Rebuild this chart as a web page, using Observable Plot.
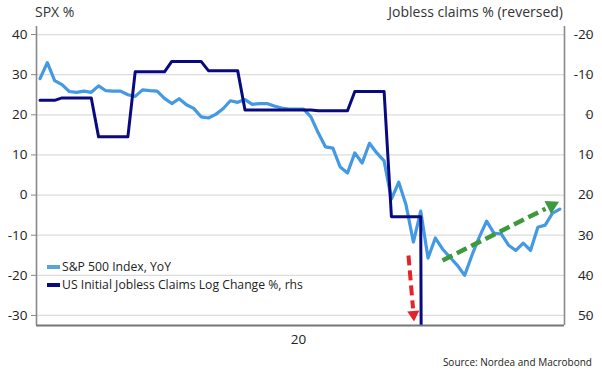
<!DOCTYPE html>
<html>
<head>
<meta charset="utf-8">
<script src="https://cdn.jsdelivr.net/npm/d3@7"></script>
<script src="https://cdn.jsdelivr.net/npm/@observablehq/plot@0.6"></script>
<style>
  body { margin: 0; background: #fff; font-family: "Open Sans", sans-serif; }
  #wrap { position: relative; width: 602px; height: 374px; overflow: hidden; }
  .hdr { position: absolute; top: 0; height: 24px; line-height: 24px; font-size: 14px; color: #333; white-space: nowrap; }
  #chart { position: absolute; top: 24px; left: 0; }
  #legend { position: absolute; left: 47px; top: 258px; font-size: 12.2px; color: #222; line-height: 18px; white-space: nowrap; }
  #legend .sw { display: inline-block; width: 13px; height: 4px; vertical-align: middle; margin-right: 2px; position: relative; top: -1px; }
  #src { position: absolute; right: 10px; top: 351px; height: 22px; line-height: 22px; font-size: 10px; color: #222; white-space: nowrap; }
</style>
</head>
<body>
<div id="wrap">
  <div class="hdr" id="lhsTitle" style="left:35px"></div>
  <div class="hdr" id="rhsTitle" style="right:39px"></div>
  <div id="chart"></div>
  <div id="legend"></div>
  <div id="src"></div>
</div>
<script>
// ---- data ----
const seriesNames = ["S&P 500 Index, YoY", "US Initial Jobless Claims Log Change %, rhs"];
const lhsTitle = "SPX %";
const rhsTitle = "Jobless claims % (reversed)";
const source = "Source: Nordea and Macrobond";

// S&P 500 YoY %, weekly observations (left axis)
const spx = [29, 33, 28.5, 27.5, 25.8, 25.6, 25.9, 25.6, 27.2, 26, 25.9, 25.9, 25, 24.6, 26.2, 26,
  25.9, 24.1, 22.8, 24, 22.5, 21.6, 19.5, 19.2, 20.1, 21.5, 23.5, 23.1, 23.8, 22.6, 22.8, 22.8,
  22.2, 21.7, 21.4, 21.4, 21.4, 19.5, 15.5, 12, 11.7, 7, 5.5, 10.5, 8, 12.9, 10.5, 8.5,
  -1, 3.2, -2.5, -11.7, -4, -15.7, -10.7, -13.5, -15.5, -17.5, -20, -15, -10.5, -6.5,
  -9.5, -9.7, -12.5, -13.8, -12, -13.8, -8, -7.5, -4.5, -3.5];

// US initial jobless claims log change %, weekly (right axis, reversed)
const claims = [-3.6, -3.6, -3.6, -4.2, -4.2, -4.2, -4.2, -4.2, 5.5, 5.5, 5.5, 5.5, 5.5,
  -10.7, -10.7, -10.7, -10.7, -10.7, -13.3, -13.3, -13.3, -13.3, -13.3,
  -11, -11, -11, -11, -11, -1.2, -1.2, -1.2, -1.2, -1.2, -1.2, -1.2, -1.2, -1.2, -1.2,
  -1, -1, -1, -1, -1, -5.8, -5.8, -5.8, -5.8, -5.8, 25.4, 25.4, 25.4, 25.4, 25.4, 500];

// axes
const lhsTicks = [-30, -20, -10, 0, 10, 20, 30, 40];
const rhsTicks = [50, 40, 30, 20, 10, 0, -10, -20];
const rhsPivot = 20;             // lhs value = rhsPivot - rhs value
const xTickPos = [35.3];
const xTickLabels = ["20"];
const xDomain = [-0.48, 71.64];
const yDomain = [-32.5, 42];

// hand-drawn arrows (start, shaft end, head centre) in data units
const arrowStart = [[50.33, -15.05], [54.98, -16.29]];
const arrowEnd = [[50.95, -28.25], [69.05, -3.39]];
const arrowHead = [[51.02, -29.75], [69.87, -2.64]];

// ---- styles ----
const colSpx = "#4399e3";
const colClaims = "#0a0a80";
const arrowColors = ["#e3242b", "#3c9a3c"];
const arrowRotate = [176, 63];
const arrowHeadR = [4.5, 5.4];
const arrowWidth = [4, 4.5];
const arrowDash = ["10,5", "11,5"];

const hyph = v => String(v).replace("\u2212", "-");

const spxData = spx.map((v, i) => ({x: i, y: v}));
const claimsData = claims.map((v, i) => ({x: i, y: rhsPivot - v}));

const arrowMarks = [];
arrowStart.forEach((s, k) => {
  arrowMarks.push(Plot.line([s, arrowEnd[k]], {
    x: d => d[0], y: d => d[1], stroke: arrowColors[k], strokeWidth: arrowWidth[k],
    strokeDasharray: arrowDash[k], strokeLinecap: "butt"
  }));
  arrowMarks.push(Plot.dot([arrowHead[k]], {
    x: d => d[0], y: d => d[1], symbol: "triangle", r: arrowHeadR[k],
    fill: arrowColors[k], stroke: "none", rotate: arrowRotate[k]
  }));
});

const chart = Plot.plot({
  width: 602,
  height: 326,
  marginLeft: 36,
  marginRight: 38,
  marginTop: 2,
  marginBottom: 25,
  x: {domain: xDomain, axis: null},
  y: {domain: yDomain, axis: null},
  style: {fontFamily: "'Open Sans', sans-serif", fontSize: "13.5px", color: "#222", background: "white"},
  marks: [
    Plot.gridY(lhsTicks, {stroke: "#dcdcdc", strokeOpacity: 1, strokeWidth: 1.2}),
    Plot.axisY(lhsTicks, {anchor: "left", tickSize: 5, tickPadding: 4, stroke: "#888", fill: "#222",
      tickFormat: d => hyph(d), label: null}),
    Plot.axisY(rhsTicks.map(r => rhsPivot - r), {anchor: "right", tickSize: 5, tickPadding: 4, dx: 20,
      textAnchor: "end", stroke: "#888", fill: "#222", tickFormat: d => hyph(rhsPivot - d), label: null}),
    Plot.axisX(xTickPos, {tickSize: 0, tickPadding: 9, fill: "#222",
      tickFormat: (d, i) => xTickLabels[i], label: null}),
    Plot.ruleX(xDomain, {stroke: "#8a8a8a", strokeWidth: 1.6}),
    Plot.line(spxData, {x: "x", y: "y", stroke: colSpx, strokeWidth: 3.2}),
    Plot.line(claimsData, {x: "x", y: "y", stroke: colClaims, strokeWidth: 3, clip: true}),
    Plot.ruleY([yDomain[0]], {stroke: "#777", strokeWidth: 2}),
    ...arrowMarks
  ]
});
document.getElementById("chart").appendChild(chart);

document.getElementById("lhsTitle").textContent = lhsTitle;
document.getElementById("rhsTitle").textContent = rhsTitle;
document.getElementById("src").textContent = source;
const leg = document.getElementById("legend");
[colSpx, colClaims].forEach((c, k) => {
  const row = document.createElement("div");
  const sw = document.createElement("span");
  sw.className = "sw";
  sw.style.background = k === 0 ? "#5aa3dc" : c;
  row.appendChild(sw);
  row.appendChild(document.createTextNode(seriesNames[k]));
  leg.appendChild(row);
});
</script>
</body>
</html>
